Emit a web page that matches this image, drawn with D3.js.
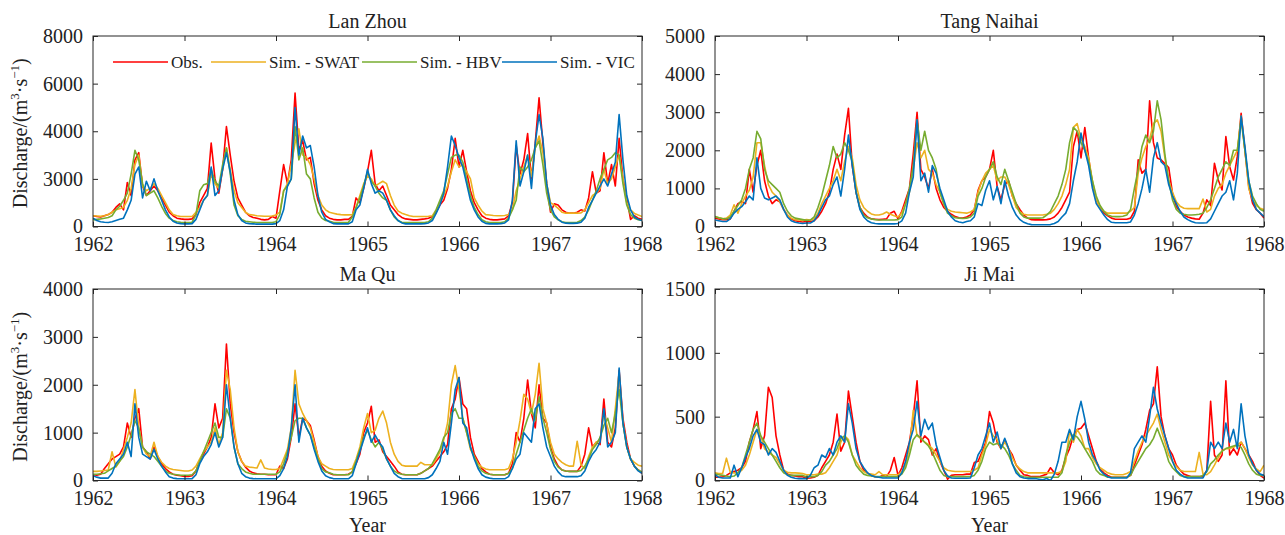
<!DOCTYPE html>
<html>
<head>
<meta charset="utf-8">
<script src="https://cdn.jsdelivr.net/npm/d3@7"></script>
<style>
  html, body { margin: 0; padding: 0; background: #fff; }
  svg { display: block; }
  text { font-family: "Liberation Serif", "Times New Roman", serif; fill: #222; }
</style>
</head>
<body>
<svg id="chart" width="1285" height="535"></svg>
<script>
// ---------------- DATA ----------------
const startYear = 1962;
const stepsPerYear = 24;            // half-month sampling
const xTickYears = [1962, 1963, 1964, 1965, 1966, 1967, 1968];
const xTickLabels = ["1962", "1963", "1964", "1965", "1966", "1967", "1968"];
const seriesNames = ["Obs.", "Sim. - SWAT", "Sim. - HBV", "Sim. - VIC"];
const stationNames = ["Lan Zhou", "Tang Naihai", "Ma Qu", "Ji Mai"];

const lanZhouYTicks = [0, 2000, 4000, 6000, 8000];
const lanZhouYLabels = ["0", "3000", "4000", "6000", "8000"];
const tangNaihaiYTicks = [0, 1000, 2000, 3000, 4000, 5000];
const tangNaihaiYLabels = ["0", "1000", "2000", "3000", "4000", "5000"];
const maQuYTicks = [0, 1000, 2000, 3000, 4000];
const maQuYLabels = ["0", "1000", "2000", "3000", "4000"];
const jiMaiYTicks = [0, 500, 1000, 1500];
const jiMaiYLabels = ["0", "500", "1000", "1500"];

// Lan Zhou
const lanZhouObs = [
 450,420,400,450,500,600,800,950,700,1850,1300,2800,3100,1700,1300,1500,1700,1500,1200,900,600,450,350,320,
 300,300,320,500,1000,1300,1600,3500,2000,1400,2400,4200,3000,1900,1200,900,600,450,380,350,300,280,300,420,
 350,1500,2600,1800,2800,5600,3200,3600,2800,2900,1800,1100,700,450,350,300,280,280,300,300,420,1200,1000,1600,
 2300,3200,1800,1500,1700,1300,900,700,500,380,320,300,280,280,300,320,350,420,600,900,1100,1600,2400,3700,
 2500,3200,2300,1500,1000,700,450,350,300,280,280,300,320,450,1000,3400,2200,2800,3900,2000,3500,5400,3500,1800,
 600,950,900,700,600,560,560,600,700,650,1200,2300,1400,1500,3100,1800,2600,1700,3700,2000,1200,300,450,350,
 300];
const lanZhouSWAT = [
 450,440,430,450,500,600,700,750,800,1100,1600,2600,3000,1700,1500,1600,1800,1600,1300,1000,700,500,450,420,
 420,420,420,600,800,1100,1300,2200,1800,1600,2400,3300,2400,1500,1000,800,600,500,480,450,440,430,430,440,
 480,600,1500,1800,2600,3500,4100,3000,2900,2600,2000,1300,900,700,600,560,520,500,490,490,500,800,1300,1800,
 2100,2000,1700,1800,1900,1800,1300,900,650,560,500,450,420,420,420,420,430,450,700,1000,1300,1700,2300,2800,
 2500,2600,2300,2000,1200,900,650,500,480,460,450,450,460,500,700,1500,2000,2500,3000,2100,3300,3800,3100,1800,
 1000,900,760,600,560,560,560,560,570,700,1000,1300,1400,1600,2400,1800,2000,2500,3000,2000,1000,700,550,480,
 420];
const lanZhouHBV = [
 280,300,320,350,380,450,700,850,1100,1400,2200,3200,2800,1800,1300,1400,1500,1200,850,550,350,250,200,180,
 170,170,180,500,1500,1750,1800,2400,1900,1700,2600,3300,2200,900,450,300,220,200,180,170,170,170,170,170,
 200,500,1500,1700,2000,4200,2800,3300,2200,2000,1200,600,350,250,220,180,170,170,170,180,400,800,1200,1700,
 2300,1900,1700,1400,1200,1100,700,400,250,180,170,170,170,170,170,170,200,350,700,1100,1500,2200,2900,3000,
 3000,2700,2000,1300,800,500,280,200,170,170,170,170,200,350,700,1100,2500,2300,2500,2800,3300,3600,2600,1400,
 700,400,280,200,170,170,170,180,250,400,700,1100,1500,2000,2400,2800,2900,3100,3000,1800,900,500,350,280,
 250];
const lanZhouVIC = [
 350,250,200,180,170,200,250,300,350,700,1100,2200,2500,1200,1900,1500,2000,1500,1100,700,400,220,150,120,
 110,110,120,300,700,1100,1300,2500,1300,1500,2400,3100,2300,1100,500,250,150,120,110,100,100,100,100,100,
 120,250,700,1700,2000,5000,3000,3800,3300,3400,2500,1300,600,300,200,120,110,110,110,110,200,700,900,1600,
 2400,1800,1400,1500,1400,1100,700,450,250,150,110,110,110,110,110,120,150,250,550,900,1400,2500,3800,3400,
 2900,2500,1800,1100,700,400,220,130,110,110,110,120,150,280,1100,3600,1700,2300,3000,1600,3500,4700,3700,1800,
 900,500,300,180,140,130,130,140,180,350,800,1100,1400,1700,2000,1700,2200,2700,4700,2800,1300,700,400,300,
 250];

// Tang Naihai
const tangNaihaiObs = [
 220,200,180,180,200,400,600,650,600,1500,900,1600,2000,1200,800,600,700,650,450,300,200,150,130,120,
 130,130,150,250,400,600,900,1500,1900,1500,2400,3100,1600,900,500,350,250,200,190,180,190,200,350,400,
 200,400,700,1000,1900,3000,1500,1300,1000,1500,1000,700,500,400,320,260,230,220,250,300,440,950,1200,1300,
 1500,2000,1050,700,1100,1200,800,600,440,300,220,180,175,175,175,180,200,250,350,500,700,900,2100,2500,
 1800,2600,1800,1100,700,500,350,280,220,190,190,190,190,220,400,1750,1400,1500,3300,2200,1800,1750,1650,1550,
 870,520,400,300,250,220,200,190,350,700,550,1660,1220,960,2360,1570,1220,1840,2970,2000,1050,610,440,350,
 220];
const tangNaihaiSWAT = [
 260,230,200,220,300,570,350,600,800,950,1300,2200,2200,1600,1100,900,800,650,450,300,220,180,170,160,
 180,170,200,350,600,800,1000,1200,1500,1200,1700,2100,1800,1100,700,500,400,330,300,300,330,380,320,280,
 250,350,600,900,1500,2200,1800,2000,1500,1400,1100,900,600,450,400,380,370,360,350,380,450,900,1200,1400,
 1500,1600,1200,1300,1300,1100,800,500,380,320,300,300,300,300,300,320,350,450,600,800,1100,1500,2600,2700,
 2300,2100,1800,1200,700,500,400,350,350,350,350,350,350,400,500,1400,1800,2100,2300,2700,2800,2500,1800,1200,
 900,650,530,480,470,470,470,470,720,380,450,800,1000,1100,1400,1600,1800,2000,2900,2000,1000,700,550,480,
 440];
const tangNaihaiHBV = [
 260,230,210,200,250,400,550,700,1000,1500,1800,2500,2300,1500,1200,1100,1000,900,600,400,280,220,200,180,
 160,170,250,500,800,1200,1600,2100,1800,1900,2200,2000,1700,900,500,300,230,200,180,170,170,170,170,170,
 180,250,600,1000,1600,2800,2000,2500,2000,1800,1500,900,600,350,280,230,220,210,220,250,350,800,1000,1300,
 1500,1700,1300,1100,1500,1200,900,600,350,250,220,220,220,220,230,300,400,600,800,1100,1500,2200,2600,2500,
 2200,2000,1700,1200,800,550,400,300,270,260,260,270,300,450,1000,1500,2100,2400,2200,2500,3300,2800,1900,1200,
 700,450,350,320,300,300,310,320,350,500,700,1000,1300,1500,1700,1600,2000,2000,2800,2000,1200,800,600,450,
 400];
const tangNaihaiVIC = [
 170,150,130,130,200,350,450,520,650,800,700,1800,1000,750,700,750,800,700,450,250,150,110,90,80,
 90,90,150,300,500,700,800,1100,1300,800,1500,2400,1600,900,450,250,150,100,80,70,70,70,70,70,
 80,150,350,900,1300,2800,1200,1400,900,1600,1400,1000,700,400,250,150,120,100,130,150,250,600,550,950,
 1200,700,1050,600,1200,800,500,300,180,110,70,50,45,45,45,45,50,80,130,250,350,600,1200,1700,
 2450,2000,1600,1000,600,450,300,180,110,100,100,100,100,120,300,600,1000,1500,900,1800,2200,1700,1600,1100,
 800,600,400,250,180,130,100,90,90,100,200,400,600,800,900,1200,700,1400,2900,2100,1200,700,450,350,
 260];

// Ma Qu
const maQuObs = [
 120,110,130,250,350,450,500,550,700,1200,900,1300,1500,700,600,450,700,500,350,250,180,130,110,100,
 85,85,100,200,400,550,700,900,1600,1100,1300,2850,1600,1000,600,400,280,200,160,140,130,130,120,120,
 120,300,250,450,900,1600,900,1300,1250,1150,850,500,300,200,150,120,120,120,120,130,180,350,550,1000,
 1200,1550,800,850,600,500,400,300,180,130,120,120,120,120,150,200,250,300,400,500,600,750,1500,1700,
 2150,1600,1500,900,550,400,250,180,130,120,120,120,120,150,350,1000,800,1300,2100,1400,1100,2000,1300,1200,
 700,450,300,220,200,190,190,190,300,550,1100,700,800,750,1700,800,700,1100,2300,1300,800,450,300,220,
 150];
const maQuSWAT = [
 190,190,200,210,220,600,280,400,650,900,1200,1900,1100,700,550,500,800,500,380,300,250,230,220,210,
 200,200,220,300,450,600,700,800,1100,750,1000,2300,1900,1100,600,400,300,280,270,260,430,260,240,230,
 230,250,450,650,1100,2300,1600,1400,1250,1100,800,500,350,300,250,230,225,225,225,225,250,450,700,1100,
 1400,1000,1050,1300,1450,1200,800,550,400,320,300,300,300,300,380,330,330,330,450,600,850,1200,2000,2400,
 1900,1300,1000,650,500,350,280,240,225,225,225,225,225,250,450,800,1250,1800,1700,1400,1800,2450,1500,1200,
 800,550,450,380,330,300,300,820,330,250,500,700,800,850,1400,1100,800,1500,2250,1200,700,450,380,320,
 300];
const maQuHBV = [
 130,130,140,150,200,250,300,400,500,700,950,1250,1100,700,600,550,500,400,300,200,150,130,120,110,
 110,110,120,200,400,600,800,1000,1200,900,900,1500,1300,700,350,250,180,150,130,130,130,130,130,130,
 130,180,350,600,900,1250,1300,1300,1100,950,700,450,250,180,160,130,120,120,120,120,180,400,650,900,
 1050,850,700,800,650,450,300,200,150,130,120,120,120,120,150,200,250,350,500,650,900,1000,1400,1500,
 1300,1300,1000,700,500,300,200,150,130,120,120,120,120,150,250,550,800,1050,1300,1500,1250,1750,1300,1000,
 650,400,280,220,200,190,190,190,210,300,450,650,750,900,1150,1300,1000,1400,1900,1200,700,450,300,220,
 180];
const maQuVIC = [
 100,70,50,50,50,150,350,450,550,800,500,1600,900,550,500,450,650,450,300,180,80,50,40,35,
 35,35,40,120,350,500,600,750,1000,700,900,2000,1300,700,350,150,80,50,40,35,35,35,35,35,
 35,100,250,500,1100,2000,800,1300,1100,950,650,400,200,100,60,40,35,35,35,35,100,350,600,850,
 1100,800,950,800,700,450,300,150,80,40,35,35,35,35,35,35,60,120,250,400,800,550,1200,1900,
 2150,1200,1100,700,450,250,120,70,50,35,35,35,35,80,250,450,550,1000,900,800,1500,1600,1100,700,
 500,300,180,100,80,80,80,80,100,200,400,550,650,800,1500,700,800,1000,2350,1200,700,450,300,200,
 150];

// Ji Mai
const jiMaiObs = [
 25,25,30,40,60,70,80,100,150,300,400,540,250,350,730,650,350,200,80,50,40,35,30,30,
 18,20,25,40,100,150,200,300,520,230,300,700,500,300,150,80,60,40,30,25,40,30,80,180,
 40,100,200,300,500,780,300,350,320,200,250,150,80,10,40,45,45,45,50,50,140,150,220,300,
 540,450,300,250,320,250,200,120,80,45,40,30,30,30,40,50,100,60,45,80,180,250,350,400,
 410,450,350,250,150,90,60,40,25,25,25,25,25,40,120,200,280,400,550,600,890,500,350,250,
 200,120,80,50,40,30,30,30,30,80,620,200,150,200,780,200,250,200,300,250,200,150,80,40,
 18];
const jiMaiSWAT = [
 60,55,55,175,65,60,60,80,120,200,300,400,350,250,220,200,180,130,80,65,60,60,58,55,
 45,45,45,50,50,60,100,150,200,300,350,320,200,150,100,70,55,50,45,70,45,45,45,45,
 45,70,120,250,550,350,330,300,280,250,200,150,100,80,75,70,70,70,70,70,80,100,200,280,
 400,350,320,250,300,250,180,120,90,70,60,60,60,60,60,60,60,60,60,70,150,390,300,400,
 350,250,250,180,130,100,80,60,50,45,45,45,55,70,150,230,300,350,400,450,520,400,300,200,
 150,110,80,70,70,70,70,220,50,45,70,120,180,230,250,250,260,280,300,250,180,120,90,70,
 120];
const jiMaiHBV = [
 50,45,40,35,30,35,60,100,200,300,400,450,350,300,250,200,150,100,60,45,40,40,40,40,
 30,30,30,40,70,120,150,200,250,330,350,300,200,120,80,50,40,35,30,30,30,30,30,30,
 30,50,100,200,320,360,330,300,270,220,150,80,40,30,30,30,30,30,30,30,40,80,150,250,
 300,280,290,280,250,200,130,80,40,30,25,25,25,25,25,25,25,25,25,60,200,300,360,340,
 300,250,200,150,80,50,40,25,25,25,25,25,25,40,100,150,200,250,280,330,410,330,250,150,
 100,70,40,30,30,30,30,30,40,70,130,160,200,230,250,260,270,280,260,200,130,80,50,40,
 40];
const jiMaiVIC = [
 45,25,20,20,20,120,30,100,180,250,350,400,300,280,200,250,220,150,80,40,25,18,15,15,
 15,40,100,120,200,180,250,200,300,350,300,600,450,250,150,100,60,40,30,25,20,20,20,20,
 20,60,150,300,400,620,350,480,400,450,280,180,80,35,20,18,18,18,18,20,100,200,250,350,
 450,300,380,250,330,250,130,60,30,20,15,15,15,10,5,15,0,50,150,300,300,400,320,500,
 620,480,300,200,150,80,50,30,20,20,20,20,20,60,250,300,350,300,500,730,560,450,350,250,
 150,80,50,30,20,20,20,20,20,80,300,250,300,250,450,300,400,250,600,350,200,130,80,50,
 40];

// ---------------- LAYOUT / STYLE ----------------
const colors = ["#FF0000", "#EDB120", "#77AC30", "#0072BD"];
const panels = [
  { left: 93,  right: 642,  top: 36,  bottom: 226.5 },
  { left: 715, right: 1264, top: 36,  bottom: 226.5 },
  { left: 93,  right: 642,  top: 289, bottom: 480.5 },
  { left: 715, right: 1264, top: 289, bottom: 480.5 }
];
const stations = [
  { series: [lanZhouObs, lanZhouSWAT, lanZhouHBV, lanZhouVIC], ticks: lanZhouYTicks, labels: lanZhouYLabels },
  { series: [tangNaihaiObs, tangNaihaiSWAT, tangNaihaiHBV, tangNaihaiVIC], ticks: tangNaihaiYTicks, labels: tangNaihaiYLabels },
  { series: [maQuObs, maQuSWAT, maQuHBV, maQuVIC], ticks: maQuYTicks, labels: maQuYLabels },
  { series: [jiMaiObs, jiMaiSWAT, jiMaiHBV, jiMaiVIC], ticks: jiMaiYTicks, labels: jiMaiYLabels }
];
const legendX = [113, 211, 362, 502];
const axisColor = "#262626";

const svg = d3.select("#chart");
const defs = svg.append("defs");

stations.forEach((st, k) => {
  const p = panels[k];
  const x = d3.scaleLinear().domain([xTickYears[0], xTickYears[xTickYears.length - 1]]).range([p.left, p.right]);
  const y = d3.scaleLinear().domain([st.ticks[0], st.ticks[st.ticks.length - 1]]).range([p.bottom, p.top]);

  const clipId = "clip" + k;
  defs.append("clipPath").attr("id", clipId)
    .append("rect").attr("x", p.left).attr("y", p.top)
    .attr("width", p.right - p.left).attr("height", p.bottom - p.top);

  const g = svg.append("g");

  // lines
  const line = d3.line()
    .x((d, i) => x(startYear + i / stepsPerYear))
    .y(d => y(d));
  const lg = g.append("g").attr("clip-path", `url(#${clipId})`);
  st.series.forEach((s, si) => {
    lg.append("path").datum(s)
      .attr("d", line)
      .attr("fill", "none")
      .attr("stroke", colors[si])
      .attr("stroke-width", 1.6)
      .attr("stroke-linejoin", "round");
  });

  // axes
  const fmtX = (d, i) => xTickLabels[i];
  const fmtY = (d, i) => st.labels[i];
  const bottomAxis = d3.axisBottom(x).tickValues(xTickYears).tickFormat(fmtX).tickSizeInner(-5).tickSizeOuter(0).tickPadding(10);
  const topAxis = d3.axisTop(x).tickValues(xTickYears).tickFormat("").tickSizeInner(-5).tickSizeOuter(0);
  const leftAxis = d3.axisLeft(y).tickValues(st.ticks).tickFormat(fmtY).tickSizeInner(-5).tickSizeOuter(0).tickPadding(10);
  const rightAxis = d3.axisRight(y).tickValues(st.ticks).tickFormat("").tickSizeInner(-5).tickSizeOuter(0);

  const styleAxis = sel => {
    sel.select(".domain").remove();
    sel.selectAll(".tick line").attr("stroke", axisColor).attr("stroke-width", 1);
    sel.selectAll(".tick text")
      .attr("fill", "#222")
      .style("font-family", '"Liberation Serif", "Times New Roman", serif')
      .style("font-size", "20px");
  };
  g.append("g").attr("transform", `translate(0,${p.bottom})`).call(bottomAxis).call(styleAxis);
  g.append("g").attr("transform", `translate(0,${p.top})`).call(topAxis).call(styleAxis);
  g.append("g").attr("transform", `translate(${p.left},0)`).call(leftAxis).call(styleAxis);
  g.append("g").attr("transform", `translate(${p.right},0)`).call(rightAxis).call(styleAxis);

  g.append("rect")
    .attr("x", p.left).attr("y", p.top)
    .attr("width", p.right - p.left).attr("height", p.bottom - p.top)
    .attr("fill", "none").attr("stroke", axisColor).attr("stroke-width", 1);

  // title
  g.append("text")
    .attr("x", (p.left + p.right) / 2).attr("y", p.top - 8)
    .attr("text-anchor", "middle").style("font-size", "20px")
    .text(stationNames[k]);

  // y label for left panels
  if (k % 2 === 0) {
    const t = g.append("text")
      .attr("transform", `translate(27,${(p.top + p.bottom) / 2 + 2}) rotate(-90)`)
      .attr("text-anchor", "middle").style("font-size", "20px");
    t.append("tspan").text("Discharge/(m");
    t.append("tspan").attr("dy", -8).style("font-size", "13px").text("3");
    t.append("tspan").attr("dy", 8).text("·s");
    t.append("tspan").attr("dy", -8).style("font-size", "13px").text("−1");
    t.append("tspan").attr("dy", 8).text(")");
  }
  // x label for bottom panels
  if (k >= 2) {
    g.append("text")
      .attr("x", (p.left + p.right) / 2).attr("y", 532)
      .attr("text-anchor", "middle").style("font-size", "20px")
      .text("Year");
  }
});

// legend (inside first panel)
const leg = svg.append("g");
seriesNames.forEach((name, i) => {
  const lx = legendX[i];
  leg.append("line")
    .attr("x1", lx).attr("x2", lx + 55)
    .attr("y1", 62).attr("y2", 62)
    .attr("stroke", colors[i]).attr("stroke-width", 1.6);
  leg.append("text")
    .attr("x", lx + 58).attr("y", 68)
    .style("font-size", "17px")
    .text(name);
});
</script>
</body>
</html>
